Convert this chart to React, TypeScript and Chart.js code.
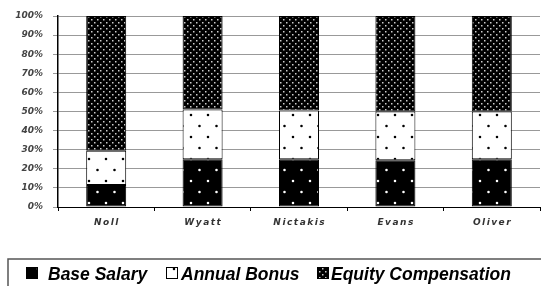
import React, { useEffect, useRef } from "react";
import { Chart, registerables } from "chart.js";

Chart.register(...registerables);

const categories = ["Noll", "Wyatt", "Nictakis", "Evans", "Oliver"];
const baseSalary = [11.5, 25, 25, 24.5, 25];
const annualBonus = [18, 26, 25.5, 25.5, 25];
const equityComp = [70.5, 49, 49.5, 50, 50];
const seriesNames = ["Base Salary", "Annual Bonus", "Equity Compensation"];

function makePattern(kind: string): CanvasPattern | string {
  const c = document.createElement("canvas");
  const g = c.getContext("2d")!;
  if (kind === "base" || kind === "bonus") {
    c.width = 17;
    c.height = 22;
    g.fillStyle = kind === "base" ? "#000" : "#fff";
    g.fillRect(0, 0, 17, 22);
    g.fillStyle = kind === "base" ? "#fff" : "#000";
    g.beginPath();
    g.arc(4, 5, 1.3, 0, Math.PI * 2);
    g.arc(12.5, 16, 1.3, 0, Math.PI * 2);
    g.fill();
  } else {
    c.width = 6;
    c.height = 6;
    g.fillStyle = "#000";
    g.fillRect(0, 0, 6, 6);
    g.fillStyle = "#ccc";
    g.fillRect(1, 1, 1.5, 1.5);
    g.fillRect(4, 4, 1.5, 1.5);
  }
  return g.createPattern(c, "repeat") || "#000";
}

export default function App() {
  const ref = useRef<HTMLCanvasElement | null>(null);

  useEffect(() => {
    document.body.style.margin = "0";
    const canvas = ref.current!;
    const pBase = makePattern("base");
    const pBonus = makePattern("bonus");
    const pEquity = makePattern("equity");
    const fills = [pBase, pBonus, pEquity];

    const overlay = {
      id: "overlay",
      afterDraw(chart: any) {
        const ctx = chart.ctx as CanvasRenderingContext2D;
        const xs = chart.scales.x;
        ctx.save();
        ctx.font = "italic bold 9px 'DejaVu Sans'";
        ctx.fillStyle = "#333";
        ctx.textAlign = "center";
        ctx.textBaseline = "middle";
        (ctx as any).letterSpacing = "1.5px";
        categories.forEach((c, i) => {
          ctx.fillText(c, xs.getPixelForValue(i) + 0.75, 223);
        });
        ctx.restore();

        ctx.save();
        ctx.strokeStyle = "#555";
        ctx.lineWidth = 1.5;
        ctx.strokeRect(8, 259, 560, 40);
        const items = [
          { icon: 26, text: 48 },
          { icon: 166, text: 181 },
          { icon: 317, text: 331 },
        ];
        ctx.font = "italic bold 17.5px 'Liberation Sans'";
        ctx.textBaseline = "alphabetic";
        ctx.textAlign = "left";
        items.forEach((it, i) => {
          ctx.fillStyle = fills[i] as any;
          ctx.fillRect(it.icon, 267, 12, 12);
          ctx.strokeStyle = "#000";
          ctx.lineWidth = 1;
          ctx.strokeRect(it.icon + 0.5, 267.5, 11, 11);
          ctx.fillStyle = "#000";
          ctx.fillText(seriesNames[i], it.text, 280);
        });
        ctx.restore();
      },
    };

    const chart = new Chart(canvas, {
      type: "bar",
      data: {
        labels: categories,
        datasets: [baseSalary, annualBonus, equityComp].map((d, i) => ({
          label: seriesNames[i],
          data: d,
          backgroundColor: fills[i] as any,
          borderColor: "#000",
          borderWidth: 1,
          borderSkipped: false,
          categoryPercentage: 1,
          barPercentage: 0.415,
        })),
      },
      options: {
        animation: false,
        responsive: false,
        maintainAspectRatio: false,
        layout: { padding: { top: 16, right: 1, left: 0, bottom: 0 } },
        plugins: { legend: { display: false }, tooltip: { enabled: false } },
        scales: {
          x: {
            stacked: true,
            grid: {
              offset: true,
              drawOnChartArea: false,
              drawTicks: true,
              tickLength: 4,
              color: "#000",
            },
            border: { color: "#000", width: 1 },
            ticks: { color: "rgba(0,0,0,0)", font: { size: 9 } },
            afterFit: (s: any) => {
              s.height = 79;
            },
          },
          y: {
            stacked: true,
            min: 0,
            max: 100,
            grid: { color: "#999", tickLength: 5, lineWidth: 1 },
            border: { color: "#000", width: 1.5 },
            ticks: {
              stepSize: 10,
              padding: 10,
              color: "#444",
              font: { family: "'DejaVu Sans'", size: 9, style: "italic", weight: "bold" },
              callback: (v: any) => v + "%",
            },
            afterFit: (s: any) => {
              s.width = 58;
            },
          },
        },
      },
      plugins: [overlay],
    });
    return () => chart.destroy();
  }, []);

  return <canvas ref={ref} width={541} height={286} style={{ display: "block" }} />;
}
